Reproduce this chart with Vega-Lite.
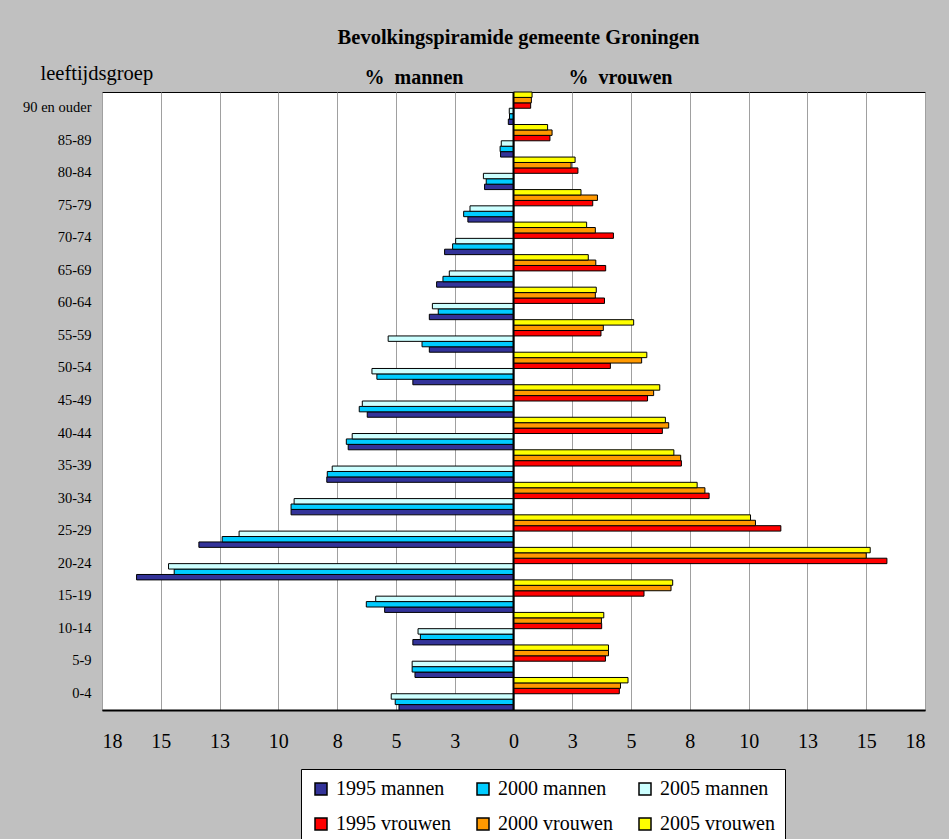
{
  "$schema": "https://vega.github.io/schema/vega-lite/v6.json",
  "width": 823,
  "height": 618,
  "autosize": {"type": "none"},
  "padding": {"left": 102, "top": 92, "right": 24, "bottom": 129},
  "background": "#c0c0c0",
  "title": {
    "text": "Bevolkingspiramide gemeente Groningen",
    "subtitle": "%\u00a0\u00a0mannen\u00a0\u00a0\u00a0\u00a0\u00a0\u00a0\u00a0\u00a0\u00a0\u00a0\u00a0\u00a0\u00a0\u00a0\u00a0\u00a0\u00a0\u00a0\u00a0\u00a0\u00a0%\u00a0\u00a0vrouwen",
    "anchor": "middle",
    "frame": "group",
    "font": "Liberation Serif",
    "fontSize": 20.5,
    "fontWeight": "bold",
    "color": "black",
    "subtitleFont": "Liberation Serif",
    "subtitleFontSize": 20,
    "subtitleFontWeight": "bold",
    "subtitleColor": "black",
    "subtitlePadding": 20,
    "offset": -25,
    "dx": 5
  },
  "data": {
    "values": [
      {"age": "90 en ouder", "series": "1995 mannen", "value": -0.22},
      {"age": "90 en ouder", "series": "2000 mannen", "value": -0.17},
      {"age": "90 en ouder", "series": "2005 mannen", "value": -0.18},
      {"age": "90 en ouder", "series": "1995 vrouwen", "value": 0.73},
      {"age": "90 en ouder", "series": "2000 vrouwen", "value": 0.76},
      {"age": "90 en ouder", "series": "2005 vrouwen", "value": 0.79},
      {"age": "85-89", "series": "1995 mannen", "value": -0.55},
      {"age": "85-89", "series": "2000 mannen", "value": -0.57},
      {"age": "85-89", "series": "2005 mannen", "value": -0.52},
      {"age": "85-89", "series": "1995 vrouwen", "value": 1.55},
      {"age": "85-89", "series": "2000 vrouwen", "value": 1.64},
      {"age": "85-89", "series": "2005 vrouwen", "value": 1.45},
      {"age": "80-84", "series": "1995 mannen", "value": -1.23},
      {"age": "80-84", "series": "2000 mannen", "value": -1.16},
      {"age": "80-84", "series": "2005 mannen", "value": -1.28},
      {"age": "80-84", "series": "1995 vrouwen", "value": 2.74},
      {"age": "80-84", "series": "2000 vrouwen", "value": 2.45},
      {"age": "80-84", "series": "2005 vrouwen", "value": 2.62},
      {"age": "75-79", "series": "1995 mannen", "value": -1.94},
      {"age": "75-79", "series": "2000 mannen", "value": -2.12},
      {"age": "75-79", "series": "2005 mannen", "value": -1.85},
      {"age": "75-79", "series": "1995 vrouwen", "value": 3.37},
      {"age": "75-79", "series": "2000 vrouwen", "value": 3.57},
      {"age": "75-79", "series": "2005 vrouwen", "value": 2.87},
      {"age": "70-74", "series": "1995 mannen", "value": -2.93},
      {"age": "70-74", "series": "2000 mannen", "value": -2.59},
      {"age": "70-74", "series": "2005 mannen", "value": -2.46},
      {"age": "70-74", "series": "1995 vrouwen", "value": 4.25},
      {"age": "70-74", "series": "2000 vrouwen", "value": 3.48},
      {"age": "70-74", "series": "2005 vrouwen", "value": 3.11},
      {"age": "65-69", "series": "1995 mannen", "value": -3.27},
      {"age": "65-69", "series": "2000 mannen", "value": -3.0},
      {"age": "65-69", "series": "2005 mannen", "value": -2.73},
      {"age": "65-69", "series": "1995 vrouwen", "value": 3.92},
      {"age": "65-69", "series": "2000 vrouwen", "value": 3.5},
      {"age": "65-69", "series": "2005 vrouwen", "value": 3.18},
      {"age": "60-64", "series": "1995 mannen", "value": -3.58},
      {"age": "60-64", "series": "2000 mannen", "value": -3.2},
      {"age": "60-64", "series": "2005 mannen", "value": -3.45},
      {"age": "60-64", "series": "1995 vrouwen", "value": 3.87},
      {"age": "60-64", "series": "2000 vrouwen", "value": 3.48},
      {"age": "60-64", "series": "2005 vrouwen", "value": 3.52},
      {"age": "55-59", "series": "1995 mannen", "value": -3.58},
      {"age": "55-59", "series": "2000 mannen", "value": -3.89},
      {"age": "55-59", "series": "2005 mannen", "value": -5.33},
      {"age": "55-59", "series": "1995 vrouwen", "value": 3.72},
      {"age": "55-59", "series": "2000 vrouwen", "value": 3.82},
      {"age": "55-59", "series": "2005 vrouwen", "value": 5.11},
      {"age": "50-54", "series": "1995 mannen", "value": -4.28},
      {"age": "50-54", "series": "2000 mannen", "value": -5.81},
      {"age": "50-54", "series": "2005 mannen", "value": -6.02},
      {"age": "50-54", "series": "1995 vrouwen", "value": 4.12},
      {"age": "50-54", "series": "2000 vrouwen", "value": 5.45},
      {"age": "50-54", "series": "2005 vrouwen", "value": 5.67},
      {"age": "45-49", "series": "1995 mannen", "value": -6.22},
      {"age": "45-49", "series": "2000 mannen", "value": -6.56},
      {"age": "45-49", "series": "2005 mannen", "value": -6.43},
      {"age": "45-49", "series": "1995 vrouwen", "value": 5.7},
      {"age": "45-49", "series": "2000 vrouwen", "value": 5.96},
      {"age": "45-49", "series": "2005 vrouwen", "value": 6.22},
      {"age": "40-44", "series": "1995 mannen", "value": -7.03},
      {"age": "40-44", "series": "2000 mannen", "value": -7.11},
      {"age": "40-44", "series": "2005 mannen", "value": -6.86},
      {"age": "40-44", "series": "1995 vrouwen", "value": 6.33},
      {"age": "40-44", "series": "2000 vrouwen", "value": 6.6},
      {"age": "40-44", "series": "2005 vrouwen", "value": 6.46},
      {"age": "35-39", "series": "1995 mannen", "value": -7.94},
      {"age": "35-39", "series": "2000 mannen", "value": -7.92},
      {"age": "35-39", "series": "2005 mannen", "value": -7.71},
      {"age": "35-39", "series": "1995 vrouwen", "value": 7.14},
      {"age": "35-39", "series": "2000 vrouwen", "value": 7.11},
      {"age": "35-39", "series": "2005 vrouwen", "value": 6.82},
      {"age": "30-34", "series": "1995 mannen", "value": -9.46},
      {"age": "30-34", "series": "2000 mannen", "value": -9.46},
      {"age": "30-34", "series": "2005 mannen", "value": -9.33},
      {"age": "30-34", "series": "1995 vrouwen", "value": 8.32},
      {"age": "30-34", "series": "2000 vrouwen", "value": 8.14},
      {"age": "30-34", "series": "2005 vrouwen", "value": 7.81},
      {"age": "25-29", "series": "1995 mannen", "value": -13.38},
      {"age": "25-29", "series": "2000 mannen", "value": -12.39},
      {"age": "25-29", "series": "2005 mannen", "value": -11.67},
      {"age": "25-29", "series": "1995 vrouwen", "value": 11.37},
      {"age": "25-29", "series": "2000 vrouwen", "value": 10.29},
      {"age": "25-29", "series": "2005 vrouwen", "value": 10.08},
      {"age": "20-24", "series": "1995 mannen", "value": -16.03},
      {"age": "20-24", "series": "2000 mannen", "value": -14.43},
      {"age": "20-24", "series": "2005 mannen", "value": -14.67},
      {"age": "20-24", "series": "1995 vrouwen", "value": 15.88},
      {"age": "20-24", "series": "2000 vrouwen", "value": 15.0},
      {"age": "20-24", "series": "2005 vrouwen", "value": 15.17},
      {"age": "15-19", "series": "1995 mannen", "value": -5.48},
      {"age": "15-19", "series": "2000 mannen", "value": -6.26},
      {"age": "15-19", "series": "2005 mannen", "value": -5.86},
      {"age": "15-19", "series": "1995 vrouwen", "value": 5.55},
      {"age": "15-19", "series": "2000 vrouwen", "value": 6.7},
      {"age": "15-19", "series": "2005 vrouwen", "value": 6.77},
      {"age": "10-14", "series": "1995 mannen", "value": -4.28},
      {"age": "10-14", "series": "2000 mannen", "value": -3.96},
      {"age": "10-14", "series": "2005 mannen", "value": -4.06},
      {"age": "10-14", "series": "1995 vrouwen", "value": 3.75},
      {"age": "10-14", "series": "2000 vrouwen", "value": 3.74},
      {"age": "10-14", "series": "2005 vrouwen", "value": 3.84},
      {"age": "5-9", "series": "1995 mannen", "value": -4.19},
      {"age": "5-9", "series": "2000 mannen", "value": -4.31},
      {"age": "5-9", "series": "2005 mannen", "value": -4.31},
      {"age": "5-9", "series": "1995 vrouwen", "value": 3.91},
      {"age": "5-9", "series": "2000 vrouwen", "value": 4.04},
      {"age": "5-9", "series": "2005 vrouwen", "value": 4.04},
      {"age": "0-4", "series": "1995 mannen", "value": -4.87},
      {"age": "0-4", "series": "2000 mannen", "value": -5.03},
      {"age": "0-4", "series": "2005 mannen", "value": -5.2},
      {"age": "0-4", "series": "1995 vrouwen", "value": 4.5},
      {"age": "0-4", "series": "2000 vrouwen", "value": 4.55},
      {"age": "0-4", "series": "2005 vrouwen", "value": 4.87}
    ]
  },
  "layer": [
    {
      "mark": {"type": "bar", "stroke": "black", "strokeWidth": 1},
      "encoding": {
        "y": {
          "field": "age",
          "type": "nominal",
          "sort": ["90 en ouder", "85-89", "80-84", "75-79", "70-74", "65-69", "60-64", "55-59", "50-54", "45-49", "40-44", "35-39", "30-34", "25-29", "20-24", "15-19", "10-14", "5-9", "0-4"],
          "scale": {"paddingInner": 0, "paddingOuter": 0},
          "axis": {
            "title": "leeftijdsgroep",
            "titleAngle": 0,
            "titleAlign": "left",
            "titleBaseline": "alphabetic",
            "titleX": -62,
            "titleY": -13,
            "titleFont": "Liberation Serif",
            "titleFontSize": 20.5,
            "titleFontWeight": "normal",
            "titleColor": "black",
            "labelFont": "Liberation Serif",
            "labelFontSize": 14.5,
            "labelColor": "black",
            "labelPadding": 11,
            "ticks": false,
            "tickSize": 0,
            "domain": false,
            "grid": false
          }
        },
        "yOffset": {
          "field": "series",
          "type": "nominal",
          "sort": ["2005 vrouwen", "2000 vrouwen", "1995 vrouwen", "2005 mannen", "2000 mannen", "1995 mannen"],
          "scale": {"paddingInner": 0, "paddingOuter": 0}
        },
        "x": {
          "field": "value",
          "type": "quantitative",
          "scale": {"domain": [-17.5, 17.5], "nice": false, "zero": false},
          "axis": {
            "title": null,
            "values": [-17.5, -15, -12.5, -10, -7.5, -5, -2.5, 0, 2.5, 5, 7.5, 10, 12.5, 15, 17.5],
            "labelExpr": "round(abs(datum.value))",
            "labelFont": "Liberation Serif",
            "labelFontSize": 20,
            "labelColor": "black",
            "labelPadding": 21,
            "ticks": false,
            "tickSize": 0,
            "grid": true,
            "gridColor": "#a0a0a0",
            "gridWidth": 1,
            "domain": true,
            "domainColor": "black",
            "domainWidth": 2
          }
        },
        "color": {
          "field": "series",
          "type": "nominal",
          "scale": {
            "domain": ["1995 mannen", "2000 mannen", "2005 mannen", "1995 vrouwen", "2000 vrouwen", "2005 vrouwen"],
            "range": ["#333399", "#00ccff", "#ccffff", "#ff0000", "#ff9900", "#ffff00"]
          },
          "legend": {
            "title": null,
            "orient": "none",
            "legendX": 199,
            "legendY": 677,
            "direction": "horizontal",
            "columns": 3,
            "symbolType": "square",
            "symbolSize": 144,
            "symbolStrokeColor": "black",
            "symbolStrokeWidth": 1.5,
            "symbolOpacity": 1,
            "labelFont": "Liberation Serif",
            "labelFontSize": 20,
            "labelColor": "black",
            "labelOffset": 5,
            "columnPadding": 22,
            "rowPadding": 15,
            "padding": 10,
            "fillColor": "white",
            "strokeColor": "black"
          }
        }
      }
    },
    {
      "data": {"values": [{"value": 0}]},
      "mark": {"type": "rule", "color": "black", "strokeWidth": 2},
      "encoding": {"x": {"field": "value", "type": "quantitative"}}
    }
  ],
  "config": {
    "view": {"fill": "white", "stroke": "black", "strokeWidth": 1}
  }
}
